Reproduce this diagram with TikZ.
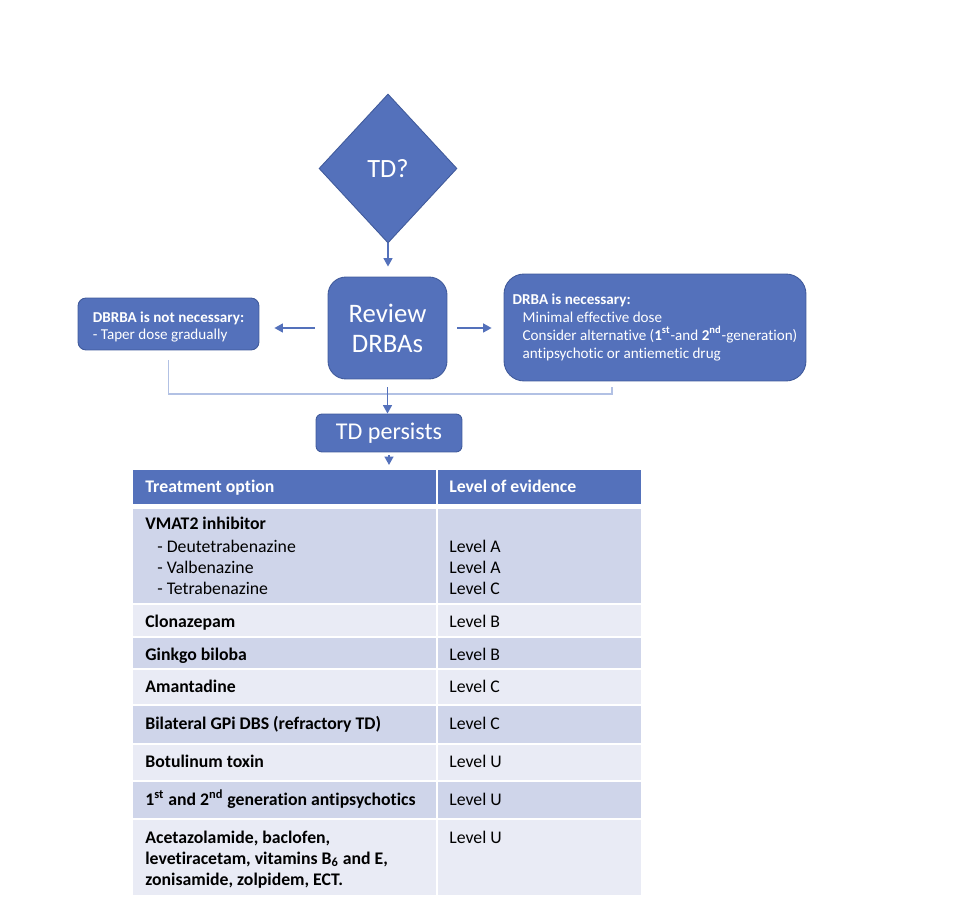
\documentclass[tikz,border=0pt]{standalone}
\usepackage{fontspec}
\setmainfont{Carlito}[Ligatures=CommonOff]
\usetikzlibrary{shapes.geometric,arrows.meta,positioning}
\definecolor{boxblue}{RGB}{84,113,187}
\definecolor{boxedge}{RGB}{64,90,155}
\definecolor{bracketblue}{RGB}{178,193,228}
\definecolor{rowdark}{RGB}{207,213,234}
\definecolor{rowlight}{RGB}{233,235,245}
\tikzset{
	flowbox/.style={draw=boxedge, fill=boxblue, text=white, line width=0.5pt, inner sep=0pt},
	link/.style={draw=boxblue, line width=0.9pt, -{Triangle[length=0.17cm,width=0.18cm]}},
	bracket/.style={draw=bracketblue, line width=0.8pt},
	sep/.style={draw=white, line width=1.2pt},
	celltext/.style={anchor=base west, inner sep=0pt, font=\fontsize{10.1}{11.9}\selectfont},
	boldtext/.style={celltext, font=\fontsize{10.1}{11.9}\selectfont\bfseries}
}
\begin{document}
\begin{tikzpicture}[x=0.02cm,y=-0.02cm]
	\useasboundingbox (0,0) rectangle (960,918);
	% flow part
	\node[flowbox, diamond, minimum width=2.76cm, minimum height=2.98cm, font=\fontsize{15}{18}\selectfont] (td) at (388,168.5) {TD?};
	\node[flowbox, rounded corners=0.36cm, minimum width=2.38cm, minimum height=2.04cm, align=center, font=\fontsize{15.2}{17}\selectfont] (review) at (387.5,328) {Review\\DRBAs};
	\node[flowbox, rounded corners=0.16cm, minimum width=3.62cm, minimum height=1.04cm, align=left, font=\fontsize{8.6}{9.6}\selectfont] (notneeded) at (168.5,324) {\rule{0pt}{9.2pt}\textbf{DBRBA is not necessary:}\\- Taper dose gradually};
	\node[flowbox, rounded corners=0.4cm, minimum width=6.04cm, minimum height=2.14cm, align=left, font=\fontsize{8.6}{10.2}\selectfont] (needed) at (655,327.5) {\textbf{DRBA is necessary:}\\\hspace*{0.2cm}Minimal effective dose\\\hspace*{0.2cm}Consider alternative (\textbf{1\textsuperscript{st}}-and \textbf{2\textsuperscript{nd}}-generation)\\\hspace*{0.2cm}antipsychotic or antiemetic drug};
	\node[flowbox, rounded corners=0.12cm, minimum width=2.92cm, minimum height=0.76cm, font=\fontsize{13.7}{16}\selectfont] (persists) at (389,433) {TD persists};
	\coordinate (merge) at (387,394);
	\coordinate (rightfoot) at (612,387);
	\coordinate (tabletop) at (387,470);

	\draw[link, shorten >=0.2cm] (td.south) -- (td.south |- review.north);
	\draw[link, shorten <=0.26cm, shorten >=0.3cm] (review.west) -- (review.west -| notneeded.east);
	\draw[link, shorten <=0.2cm, shorten >=0.24cm] (review.east) -- (review.east -| needed.west);
	\draw[bracket] ([yshift=-0.2cm]notneeded.south) |- (merge) -| (rightfoot);
	\draw[link, shorten <=0.16cm] (review.south) -- (review.south |- persists.north);
	\draw[link, shorten <=0.06cm, shorten >=0.1cm] (persists.south) -- (persists.south |- tabletop);

	% table
	\fill[boxblue] (133,470) rectangle (641,504);
	\foreach \top/\bot/\shade in {509/604/rowdark, 604/637/rowlight, 637/669/rowdark, 669/705/rowlight, 705/744/rowdark, 744/781/rowlight, 781/819/rowdark, 819/895/rowlight}
		\fill[\shade] (133,\top) rectangle (641,\bot);
	\foreach \y in {604,637,669,705,744,781,819}
		\draw[sep] (133,\y) -- (641,\y);
	\draw[sep] (437,470) -- (437,895);

	\node[boldtext, text=white] (headopt) at (145,493) {Treatment option};
	\node[boldtext, text=white] (headlevel) at (449,493) {Level of evidence};
	\foreach \y/\txt [count=\i] in {524/VMAT2 inhibitor, 621/Clonazepam, 654/Ginkgo biloba, 686/Amantadine, 723/Bilateral GPi DBS (refractory TD), 761/Botulinum toxin, 799/{1\textsuperscript{st} and 2\textsuperscript{nd} generation antipsychotics}, 837/{Acetazolamide, baclofen,}, 858/{levetiracetam, vitamins B\textsubscript{6} and E,}, 879/{zonisamide, zolpidem, ECT.}}
		\node[boldtext] (option\i) at (145,\y+6) {\txt};
	\foreach \y/\txt [count=\i] in {546/Deutetrabenazine, 567/Valbenazine, 588/Tetrabenazine}
		\node[celltext] (drug\i) at (157,\y+6) {- \txt};
	\foreach \y/\lvl [count=\i] in {546/A, 567/A, 588/C, 621/B, 654/B, 686/C, 723/C, 761/U, 799/U, 837/U}
		\node[celltext] (level\i) at (449,\y+6) {Level \lvl};
\end{tikzpicture}
\end{document}
